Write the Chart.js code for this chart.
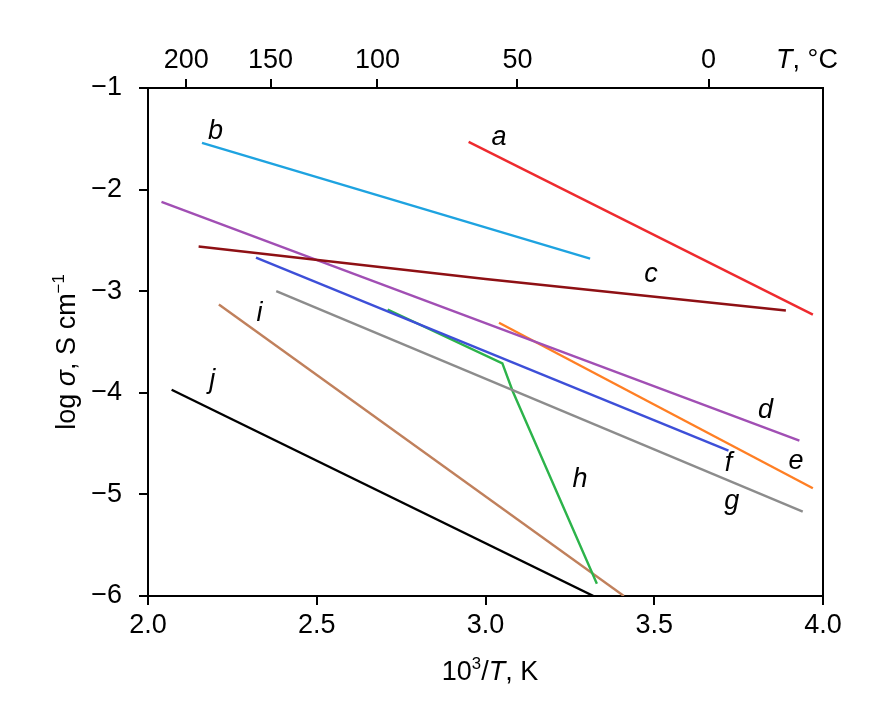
<!DOCTYPE html>
<html>
<head>
<meta charset="utf-8">
<script src="https://cdn.jsdelivr.net/npm/chart.js@4.4.1/dist/chart.umd.min.js"></script>
<style>
  html, body { margin: 0; padding: 0; background: #fff; }
  #wrap { width: 876px; height: 706px; }
</style>
</head>
<body>
<div id="wrap"><canvas id="chart" width="876" height="706"></canvas></div>
<script>
// Curve data: [10^3/T, log sigma] pairs
const curveA = [[2.95, -1.53], [3.97, -3.23]];
const curveB = [[2.16, -1.54], [3.31, -2.68]];
const curveC = [[2.15, -2.56], [3.0, -2.88], [3.89, -3.19]];
const curveD = [[2.04, -2.12], [3.93, -4.47]];
const curveE = [[3.04, -3.31], [3.97, -4.94]];
const curveF = [[2.32, -2.67], [3.72, -4.57]];
const curveG = [[2.38, -3.0], [3.94, -5.17]];
const curveH = [[2.71, -3.18], [3.05, -3.71], [3.08, -3.98], [3.33, -5.88]];
const curveI = [[2.21, -3.13], [3.41, -6.0]];
const curveJ = [[2.07, -3.97], [3.32, -6.0]];

const curveNames = ['a', 'b', 'c', 'd', 'e', 'f', 'g', 'h', 'i', 'j'];
const curveColors = ['#ee2a2e', '#1ea3e0', '#8e1014', '#a14fb4', '#ff7f24', '#3d4fd8', '#8c8c8c', '#2cb34a', '#c0805c', '#000000'];
const curves = [curveA, curveB, curveC, curveD, curveE, curveF, curveG, curveH, curveI, curveJ];

// where the italic letters sit (data coords)
const labelX = [3.04, 2.20, 3.49, 3.83, 3.92, 3.72, 3.73, 3.28, 2.33, 2.19];
const labelY = [-1.49, -1.43, -2.84, -4.17, -4.68, -4.70, -5.07, -4.85, -3.22, -3.88];

// Top axis: temperature in deg C
const tempTicks = [200, 150, 100, 50, 0];
const yTicks = [-1, -2, -3, -4, -5, -6];

const FONT = '"Liberation Sans", Arial, sans-serif';

function drawRich(ctx, parts, x, y, size) {
    // measure first so the whole string is centred
    let total = 0;
    parts.forEach(p => {
        const s = p.sup ? size * 0.62 : size;
        ctx.font = (p.italic ? 'italic ' : '') + s + 'px ' + FONT;
        p.w = ctx.measureText(p.t).width;
        total += p.w;
    });
    let cx = x - total / 2;
    ctx.textAlign = 'left';
    ctx.textBaseline = 'alphabetic';
    parts.forEach(p => {
        const s = p.sup ? size * 0.62 : size;
        ctx.font = (p.italic ? 'italic ' : '') + s + 'px ' + FONT;
        ctx.fillText(p.t, cx, p.sup ? y - size * 0.42 : y);
        cx += p.w;
    });
}

const extrasPlugin = {
    id: 'extras',
    afterDraw(chart) {
        const ctx = chart.ctx;
        const area = chart.chartArea;
        const xs = chart.scales.x;
        const ys = chart.scales.y;
        ctx.save();

        // right side of the frame
        ctx.strokeStyle = '#000';
        ctx.lineWidth = 2;
        ctx.beginPath();
        ctx.moveTo(area.right, area.top - 1);
        ctx.lineTo(area.right, area.bottom + 1);
        ctx.stroke();

        ctx.fillStyle = '#000';

        // curve letters
        ctx.font = 'italic 27px ' + FONT;
        ctx.textAlign = 'center';
        ctx.textBaseline = 'middle';
        curveNames.forEach((n, i) => {
            ctx.fillText(n, xs.getPixelForValue(labelX[i]), ys.getPixelForValue(labelY[i]));
        });

        // x title
        drawRich(ctx, [
            { t: '10' }, { t: '3', sup: true }, { t: '/' }, { t: 'T', italic: true }, { t: ', K' }
        ], 490, 680, 27);

        // top axis unit
        drawRich(ctx, [{ t: 'T', italic: true }, { t: ', °C' }], 807, 68, 27);

        // y title (rotated)
        ctx.translate(75, 352);
        ctx.rotate(-Math.PI / 2);
        drawRich(ctx, [
            { t: 'log ' }, { t: 'σ', italic: true }, { t: ', S cm' }, { t: '−1', sup: true }
        ], 0, 0, 27);

        ctx.restore();
    }
};

const tickFont = { family: FONT, size: 27 };

new Chart(document.getElementById('chart'), {
    type: 'scatter',
    data: {
        datasets: curves.map((c, i) => ({
            label: curveNames[i],
            data: c.map(p => ({ x: p[0], y: p[1] })),
            showLine: true,
            borderColor: curveColors[i],
            backgroundColor: curveColors[i],
            borderWidth: 2.4,
            pointRadius: 0,
            tension: 0
        }))
    },
    options: {
        responsive: false,
        animation: false,
        devicePixelRatio: 1,
        layout: { padding: { left: 0, right: 53, top: 0, bottom: 0 } },
        plugins: {
            legend: { display: false },
            tooltip: { enabled: false }
        },
        scales: {
            x: {
                type: 'linear',
                position: 'bottom',
                min: 2, max: 4,
                afterBuildTicks: s => { s.ticks = [2, 2.5, 3, 3.5, 4].map(v => ({ value: v })); },
                afterFit: s => { s.height = 110; },
                border: { display: true, color: '#000', width: 2 },
                grid: { drawOnChartArea: false, color: '#000', lineWidth: 2, tickLength: 9 },
                ticks: {
                    font: tickFont, color: '#000', padding: 4, maxRotation: 0, autoSkip: false,
                    callback: v => v.toFixed(1)
                }
            },
            x2: {
                type: 'linear',
                position: 'top',
                min: 2, max: 4,
                afterBuildTicks: s => { s.ticks = tempTicks.map(t => ({ value: 1000 / (t + 273.15) })); },
                afterFit: s => { s.height = 88; },
                border: { display: true, color: '#000', width: 2 },
                grid: { drawOnChartArea: false, color: '#000', lineWidth: 2, tickLength: 9 },
                ticks: {
                    font: tickFont, color: '#000', padding: 2, maxRotation: 0, autoSkip: false,
                    callback: (v, i) => String(tempTicks[i])
                }
            },
            y: {
                type: 'linear',
                min: -6, max: -1,
                afterBuildTicks: s => { s.ticks = yTicks.map(v => ({ value: v })); },
                afterFit: s => { s.width = 148; },
                border: { display: true, color: '#000', width: 2 },
                grid: { drawOnChartArea: false, color: '#000', lineWidth: 2, tickLength: 9 },
                ticks: {
                    font: tickFont, color: '#000', padding: 17,
                    callback: v => '−' + Math.abs(v)
                }
            }
        }
    },
    plugins: [extrasPlugin]
});
</script>
</body>
</html>
